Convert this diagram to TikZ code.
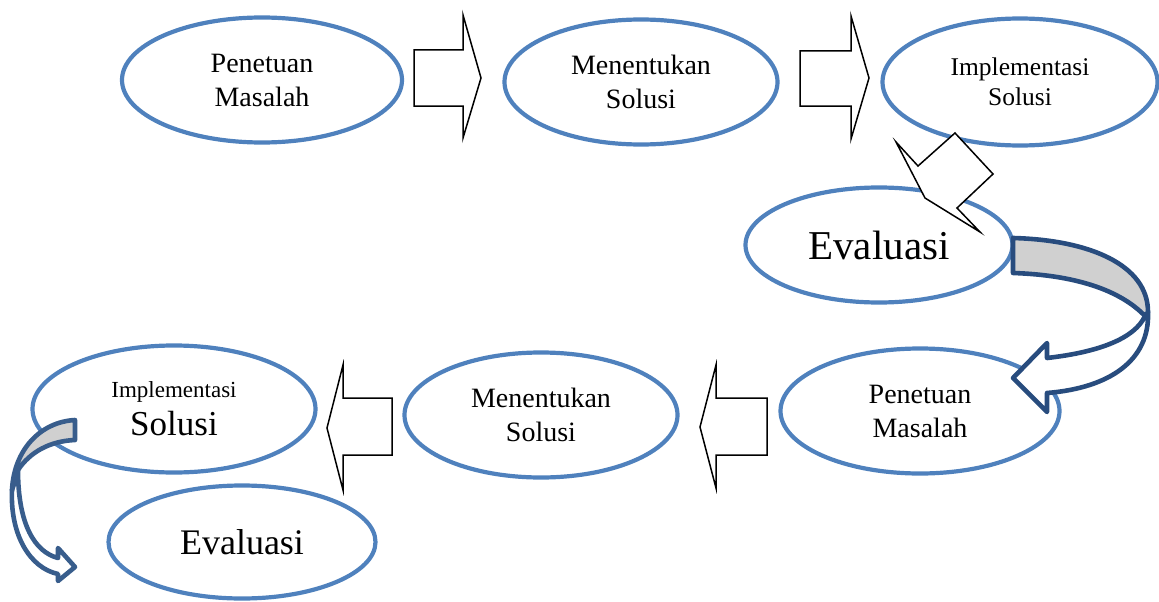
\documentclass[tikz,border=0pt]{standalone}
\usepackage{fontspec}
\setmainfont{Liberation Serif}
\usetikzlibrary{shapes.geometric}
\definecolor{ellblue}{RGB}{79,129,189}
\definecolor{arrblue}{RGB}{40,76,126}
\definecolor{arrblueb}{RGB}{56,93,140}
\definecolor{arrgray}{RGB}{208,208,208}
\begin{document}
\begin{tikzpicture}[x=1pt,y=-1pt,
  oval/.style={ellipse, draw=ellblue, line width=4.2pt, inner sep=0pt, align=center},
  blockarrow/.style={draw=black, line width=1.5pt, fill=white, line join=miter},
  curvearrow/.style={draw=arrblue, line width=4.6pt, line join=round},
  fmain/.style={font=\fontsize{28}{34}\selectfont},
]
\useasboundingbox (0,0) rectangle (1159,602);
% ellipses
\node[oval, fmain, minimum width=280pt, minimum height=125pt] (pm1) at (262,80) {Penetuan\\Masalah};
\node[oval, fmain, minimum width=273pt, minimum height=125pt] (ms1) at (641,82) {Menentukan\\Solusi};
\node[oval, font=\fontsize{25.5}{30}\selectfont, minimum width=275pt, minimum height=127pt] (is1) at (1020,82) {Implementasi\\Solusi};
\node[oval, font=\fontsize{41}{48}\selectfont, minimum width=267pt, minimum height=115pt] (ev1) at (879,245) {Evaluasi};
\node[oval, fmain, minimum width=279pt, minimum height=125pt] (pm2) at (920,411) {Penetuan\\Masalah};
\node[oval, fmain, minimum width=273pt, minimum height=125pt] (ms2) at (541,415) {Menentukan\\Solusi};
\node[oval, font=\fontsize{23}{38}\selectfont, minimum width=283pt, minimum height=127pt] (is2) at (174,409) {Implementasi\\{\fontsize{35}{38}\selectfont Solusi}};
\node[oval, font=\fontsize{36}{42}\selectfont, minimum width=267pt, minimum height=113pt] (ev2) at (242,542) {Evaluasi};
% block arrows
\draw[blockarrow] (414,50) -- (463,50) -- (463,15) -- (481,78) -- (463,138) -- (463,106) -- (414,106) -- cycle;
\draw[blockarrow] (800,51) -- (851,51) -- (851,16) -- (869,78) -- (851,139) -- (851,106) -- (800,106) -- cycle;
\draw[blockarrow] (767,398) -- (716,398) -- (716,365) -- (700,427) -- (716,488) -- (716,455) -- (767,455) -- cycle;
\draw[blockarrow] (392,398) -- (343,398) -- (343,365) -- (327,428) -- (343,490) -- (343,455) -- (392,455) -- cycle;
\draw[blockarrow] (896,142) -- (918,166) -- (955,133) -- (993,174) -- (957,208) -- (980,232) -- (925,198) -- cycle;
% curved arrow right
\draw[curvearrow, fill=white] (1148,312) .. controls (1150,360) and (1110,388) .. (1047,393) -- (1047,412) -- (1013,378) -- (1047,343) -- (1047,358) .. controls (1100,352) and (1135,338) .. (1145,316) -- cycle;
\draw[curvearrow, fill=arrgray] (1013,238) .. controls (1090,240) and (1148,265) .. (1148,312) -- (1145,316) .. controls (1120,290) and (1075,275) .. (1013,273) -- cycle;
% curved arrow left
\draw[curvearrow, draw=arrblueb, fill=white] (12,490) .. controls (10,535) and (30,568) .. (58,574) -- (58,581) -- (75,567) -- (58,548) -- (58,558) .. controls (35,552) and (18,525) .. (18,470) -- cycle;
\draw[curvearrow, draw=arrblueb, fill=arrgray] (75,420) .. controls (40,422) and (14,450) .. (12,490) -- (18,470) .. controls (30,452) and (50,441) .. (75,440) -- cycle;
\end{tikzpicture}
\end{document}
